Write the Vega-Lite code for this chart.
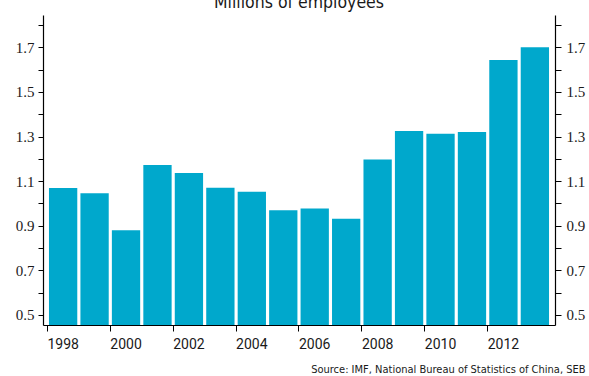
{
  "$schema": "https://vega.github.io/schema/vega-lite/v6.json",
  "width": 512,
  "height": 310,
  "autosize": "none",
  "padding": {"left": 43, "top": 15, "right": 34, "bottom": 51},
  "background": "white",
  "title": {
    "text": "Millions of employees",
    "font": "DejaVu Sans Condensed, Roboto",
    "fontSize": 17.5,
    "fontWeight": "normal",
    "color": "#1a1a1a",
    "anchor": "middle",
    "baseline": "alphabetic",
    "offset": 6,
    "dy": 16
  },
  "data": {
    "values": [
      {"year": 1998, "employees": 1.069},
      {"year": 1999, "employees": 1.046},
      {"year": 2000, "employees": 0.880},
      {"year": 2001, "employees": 1.172},
      {"year": 2002, "employees": 1.137},
      {"year": 2003, "employees": 1.070},
      {"year": 2004, "employees": 1.052},
      {"year": 2005, "employees": 0.970},
      {"year": 2006, "employees": 0.977},
      {"year": 2007, "employees": 0.931},
      {"year": 2008, "employees": 1.197},
      {"year": 2009, "employees": 1.325},
      {"year": 2010, "employees": 1.313},
      {"year": 2011, "employees": 1.320},
      {"year": 2012, "employees": 1.643},
      {"year": 2013, "employees": 1.700}
    ]
  },
  "layer": [
    {
      "mark": {"type": "bar", "color": "#00a8cc", "clip": true},
      "encoding": {
        "x": {
          "field": "year",
          "type": "ordinal",
          "scale": {"paddingInner": 0.1, "paddingOuter": 0.19},
          "axis": {
            "values": [1998, 2000, 2002, 2004, 2006, 2008, 2010, 2012],
            "bandPosition": -0.056,
            "labelAngle": 0,
            "labelFont": "Roboto",
            "labelFontSize": 14,
            "labelColor": "#1a1a1a",
            "labelPadding": 6,
            "tickSize": 6,
            "tickColor": "#000",
            "domainColor": "#000",
            "domainWidth": 1.2,
            "grid": false,
            "title": "Source: IMF, National Bureau of Statistics of China, SEB",
            "titleFont": "DejaVu Sans Condensed, Roboto",
            "titleFontSize": 11,
            "titleFontWeight": "normal",
            "titleColor": "#1a1a1a",
            "titleAnchor": "end",
            "titleAlign": "right",
            "titleBaseline": "alphabetic",
            "titleX": 542,
            "titleY": 47
          }
        },
        "y": {
          "field": "employees",
          "type": "quantitative",
          "scale": {"domain": [0.455, 1.845], "zero": false, "nice": false},
          "axis": {
            "orient": "left",
            "values": [0.5, 0.6, 0.7, 0.8, 0.9, 1.0, 1.1, 1.2, 1.3, 1.4, 1.5, 1.6, 1.7, 1.8],
            "labelExpr": "round(datum.value*10) % 2 == 1 ? format(datum.value, '.1f') : ''",
            "labelFont": "Liberation Serif",
            "labelFontSize": 15,
            "labelColor": "#1a1a1a",
            "labelPadding": 4,
            "tickSize": 5,
            "tickColor": "#000",
            "domainColor": "#000",
            "domainWidth": 1.2,
            "grid": false,
            "title": null
          }
        }
      }
    },
    {
      "mark": {"type": "bar", "opacity": 0},
      "encoding": {
        "x": {"field": "year", "type": "ordinal"},
        "y": {
          "field": "employees",
          "type": "quantitative",
          "axis": {
            "orient": "right",
            "values": [0.5, 0.6, 0.7, 0.8, 0.9, 1.0, 1.1, 1.2, 1.3, 1.4, 1.5, 1.6, 1.7, 1.8],
            "labelExpr": "round(datum.value*10) % 2 == 1 ? format(datum.value, '.1f') : ''",
            "labelFont": "Liberation Serif",
            "labelFontSize": 15,
            "labelColor": "#1a1a1a",
            "labelPadding": 5,
            "tickSize": 6,
            "tickColor": "#000",
            "domainColor": "#000",
            "domainWidth": 1.2,
            "grid": false,
            "title": null
          }
        }
      }
    }
  ],
  "config": {"view": {"stroke": null}}
}
